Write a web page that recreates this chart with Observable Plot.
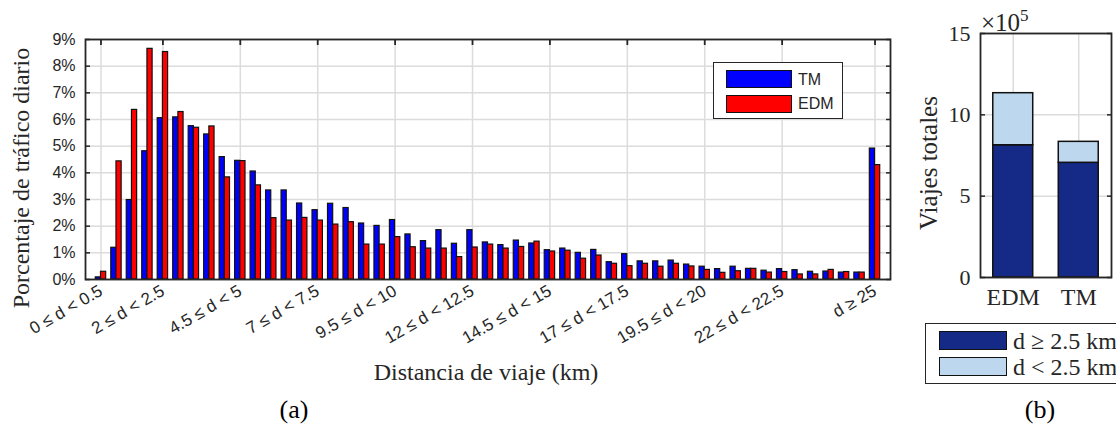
<!DOCTYPE html>
<html><head><meta charset="utf-8">
<script src="https://cdn.jsdelivr.net/npm/d3@7"></script>
<script src="https://cdn.jsdelivr.net/npm/@observablehq/plot@0.6"></script>
<style>
body{margin:0;background:#fff;}
#root{position:relative;width:1116px;height:432px;overflow:hidden;background:#fff;font-family:"Liberation Serif","Times New Roman",serif;color:#262626;}
#root svg{position:absolute;top:0;}
.abs{position:absolute;white-space:nowrap;line-height:1;}
.c{transform:translate(-50%,-50%);}
.rot{transform:translate(-50%,-50%) rotate(-90deg);}
.box{position:absolute;box-sizing:border-box;border:1.5px solid #262626;background:#fff;}
.sw{position:absolute;box-sizing:border-box;border:1.5px solid #111;}
.lt{position:absolute;white-space:nowrap;line-height:1;transform:translateY(-50%);}
</style></head><body><div id="root"></div>
<script>
// ---- Panel (a) data ----
const categorias = [
  "0 ≤ d < 0.5","0.5 ≤ d < 1","1 ≤ d < 1.5","1.5 ≤ d < 2","2 ≤ d < 2.5",
  "2.5 ≤ d < 3","3 ≤ d < 3.5","3.5 ≤ d < 4","4 ≤ d < 4.5","4.5 ≤ d < 5",
  "5 ≤ d < 5.5","5.5 ≤ d < 6","6 ≤ d < 6.5","6.5 ≤ d < 7","7 ≤ d < 7.5",
  "7.5 ≤ d < 8","8 ≤ d < 8.5","8.5 ≤ d < 9","9 ≤ d < 9.5","9.5 ≤ d < 10",
  "10 ≤ d < 10.5","10.5 ≤ d < 11","11 ≤ d < 11.5","11.5 ≤ d < 12","12 ≤ d < 12.5",
  "12.5 ≤ d < 13","13 ≤ d < 13.5","13.5 ≤ d < 14","14 ≤ d < 14.5","14.5 ≤ d < 15",
  "15 ≤ d < 15.5","15.5 ≤ d < 16","16 ≤ d < 16.5","16.5 ≤ d < 17","17 ≤ d < 17.5",
  "17.5 ≤ d < 18","18 ≤ d < 18.5","18.5 ≤ d < 19","19 ≤ d < 19.5","19.5 ≤ d < 20",
  "20 ≤ d < 20.5","20.5 ≤ d < 21","21 ≤ d < 21.5","21.5 ≤ d < 22","22 ≤ d < 22.5",
  "22.5 ≤ d < 23","23 ≤ d < 23.5","23.5 ≤ d < 24","24 ≤ d < 24.5","24.5 ≤ d < 25",
  "d ≥ 25"
];
const tmPct = [0.08,1.19,2.98,4.81,6.05,6.08,5.75,5.44,4.59,4.45,
  4.05,3.34,3.34,2.85,2.60,2.84,2.68,2.10,2.01,2.23,
  1.69,1.44,1.85,1.34,1.85,1.39,1.29,1.46,1.35,1.10,
  1.16,1.00,1.11,0.65,0.95,0.68,0.68,0.71,0.56,0.48,
  0.39,0.48,0.40,0.33,0.39,0.35,0.29,0.30,0.26,0.26,4.91];
const edmPct = [0.29,4.43,6.36,8.65,8.53,6.28,5.69,5.74,3.83,4.44,
  3.53,2.30,2.21,2.31,2.21,2.06,2.15,1.31,1.31,1.59,
  1.21,1.16,1.16,0.84,1.20,1.31,1.16,1.22,1.42,1.05,
  1.08,0.78,0.90,0.59,0.50,0.59,0.48,0.59,0.49,0.36,
  0.25,0.31,0.40,0.26,0.28,0.19,0.19,0.36,0.28,0.26,4.29];
const etiquetasX = ["0 ≤ d < 0.5","2 ≤ d < 2.5","4.5 ≤ d < 5","7 ≤ d < 7.5","9.5 ≤ d < 10",
  "12 ≤ d < 12.5","14.5 ≤ d < 15","17 ≤ d < 17.5","19.5 ≤ d < 20","22 ≤ d < 22.5","d ≥ 25"];
const ticksPct = [0,1,2,3,4,5,6,7,8,9];
const seriesA = ["TM","EDM"];
const coloresA = ["#0000ff","#ff0000"];

// ---- Panel (b) data ----
const modos = ["EDM","TM"];
const viajesLargos = [813000, 705000];   // d ≥ 2.5 km
const viajesCortos = [320000, 129000];   // d < 2.5 km
const gruposB = ["d ≥ 2.5 km","d < 2.5 km"];
const coloresB = ["#152986","#bdd7ee"];
const ticksViajes = [0, 500000, 1000000, 1500000];

const ink = "#262626";
const sans = "'Liberation Sans', Arial, sans-serif";
const serif = "'Liberation Serif', 'Times New Roman', serif";
const root = document.getElementById("root");

// ---------- Panel (a) ----------
const filasTM = categorias.map((c,i)=>({cat:c, v:tmPct[i]}));
const filasEDM = categorias.map((c,i)=>({cat:c, v:edmPct[i]}));
const half = 5.2;
const gridStyle = {stroke:"#dcdcdc", strokeOpacity:1, strokeWidth:1.5};
const plotA = Plot.plot({
  width: 900, height: 432,
  marginLeft: 85, marginRight: 10, marginTop: 39, marginBottom: 153,
  style: {background:"transparent", color: ink, fontFamily: sans, fontSize:"16px", overflow:"visible"},
  x: {type:"band", domain: categorias, paddingInner: 0.33, paddingOuter: 0.665, round: false},
  y: {domain:[0,9]},
  marks: [
    Plot.gridY(ticksPct, gridStyle),
    Plot.gridX(etiquetasX, gridStyle),
    Plot.barY(filasTM, {x:"cat", y:"v", fill:coloresA[0], stroke:"#111", strokeWidth:1.2, insetRight: half}),
    Plot.barY(filasEDM, {x:"cat", y:"v", fill:coloresA[1], stroke:"#111", strokeWidth:1.2, insetLeft: half}),
    Plot.frame({stroke: ink, strokeWidth: 1.8}),
    Plot.axisY(ticksPct, {anchor:"left", tickSize:0, tickPadding:10, tickFormat: d => d + "%", label:null, fontSize:16}),
    Plot.axisY(ticksPct, {anchor:"left", tickSize:-5, fill:"none", stroke: ink, strokeWidth:1.5, label:null}),
    Plot.axisY(ticksPct, {anchor:"right", tickSize:-5, fill:"none", stroke: ink, strokeWidth:1.5, label:null}),
    Plot.axisX(etiquetasX, {anchor:"top", tickSize:-5, fill:"none", stroke: ink, strokeWidth:1.8, label:null}),
    Plot.axisX(etiquetasX, {anchor:"bottom", tickSize:0, tickPadding:10, tickRotate:-30, label:null, fontSize:17})
  ]
});
plotA.style.left = "0px";
root.appendChild(plotA);

// ---------- Panel (b) ----------
const filasB = [];
modos.forEach((m,i)=>{
  filasB.push({modo:m, grupo:gruposB[0], viajes:viajesLargos[i]});
  filasB.push({modo:m, grupo:gruposB[1], viajes:viajesCortos[i]});
});
const plotB = Plot.plot({
  width: 216, height: 432,
  marginLeft: 80, marginRight: 5, marginTop: 33, marginBottom: 155,
  style: {background:"transparent", color: ink, fontFamily: serif, fontSize:"22px", overflow:"visible"},
  x: {type:"band", domain: modos, paddingInner: 0.39, paddingOuter: 0.195, round: false},
  y: {domain:[0,1500000]},
  color: {domain: gruposB, range: coloresB},
  marks: [
    Plot.gridY(ticksViajes, gridStyle),
    Plot.gridX(modos, gridStyle),
    Plot.barY(filasB, {x:"modo", y:"viajes", fill:"grupo", order: gruposB, stroke:"#111", strokeWidth:1.5}),
    Plot.frame({stroke: ink, strokeWidth: 1.8}),
    Plot.axisY(ticksViajes, {anchor:"left", tickSize:0, tickPadding:10, tickFormat: d => String(d / 1e5), label:null, fontSize:22}),
    Plot.axisY(ticksViajes, {anchor:"left", tickSize:-5, fill:"none", stroke: ink, strokeWidth:1.5, label:null}),
    Plot.axisY(ticksViajes, {anchor:"right", tickSize:-5, fill:"none", stroke: ink, strokeWidth:1.5, label:null}),
    Plot.axisX(modos, {anchor:"bottom", tickSize:0, tickPadding:10, label:null, fontSize:24})
  ]
});
plotB.style.left = "900px";
root.appendChild(plotB);

// ---------- Titles, labels and legends ----------
function addText(txt, x, y, cls, size, extra) {
  const d = document.createElement("div");
  d.className = "abs " + cls;
  d.style.left = x + "px"; d.style.top = y + "px";
  d.style.fontSize = size + "px";
  if (extra) Object.assign(d.style, extra);
  d.innerHTML = txt;
  root.appendChild(d);
  return d;
}
addText("Porcentaje de tráfico diario", 21, 178, "rot", 24);
addText("Distancia de viaje (km)", 486, 372, "c", 24);
addText("(a)", 294, 410, "c", 26, {color:"#000"});
addText("Viajes totales", 928, 163, "rot", 25);
addText("×10<sup style='font-size:17px;vertical-align:10px'>5</sup>", 981, 7, "", 25);
addText("(b)", 1040, 410, "c", 26, {color:"#000"});

// legend helpers
function box(x,y,w,h){const b=document.createElement("div");b.className="box";Object.assign(b.style,{left:x+"px",top:y+"px",width:w+"px",height:h+"px"});root.appendChild(b);}
function swatch(x,y,w,h,col){const s=document.createElement("div");s.className="sw";Object.assign(s.style,{left:x+"px",top:y+"px",width:w+"px",height:h+"px",background:col});root.appendChild(s);}
function label(txt,x,y,size,font){const t=document.createElement("div");t.className="lt";Object.assign(t.style,{left:x+"px",top:y+"px",fontSize:size+"px",fontFamily:font});t.textContent=txt;root.appendChild(t);}
// legend (a)
box(713, 62, 130, 57);
seriesA.forEach((s,i)=>{
  swatch(726, 70 + i*24.5, 66, 18, coloresA[i]);
  label(s, 798, 79.5 + i*24.5, 16, sans);
});
// legend (b)
box(925, 323, 200, 61);
gruposB.forEach((g,i)=>{
  swatch(939, 331 + i*26, 68, 19, coloresB[i]);
  label(g, 1013, 341 + i*26, 24, serif);
});
</script>
</body></html>
